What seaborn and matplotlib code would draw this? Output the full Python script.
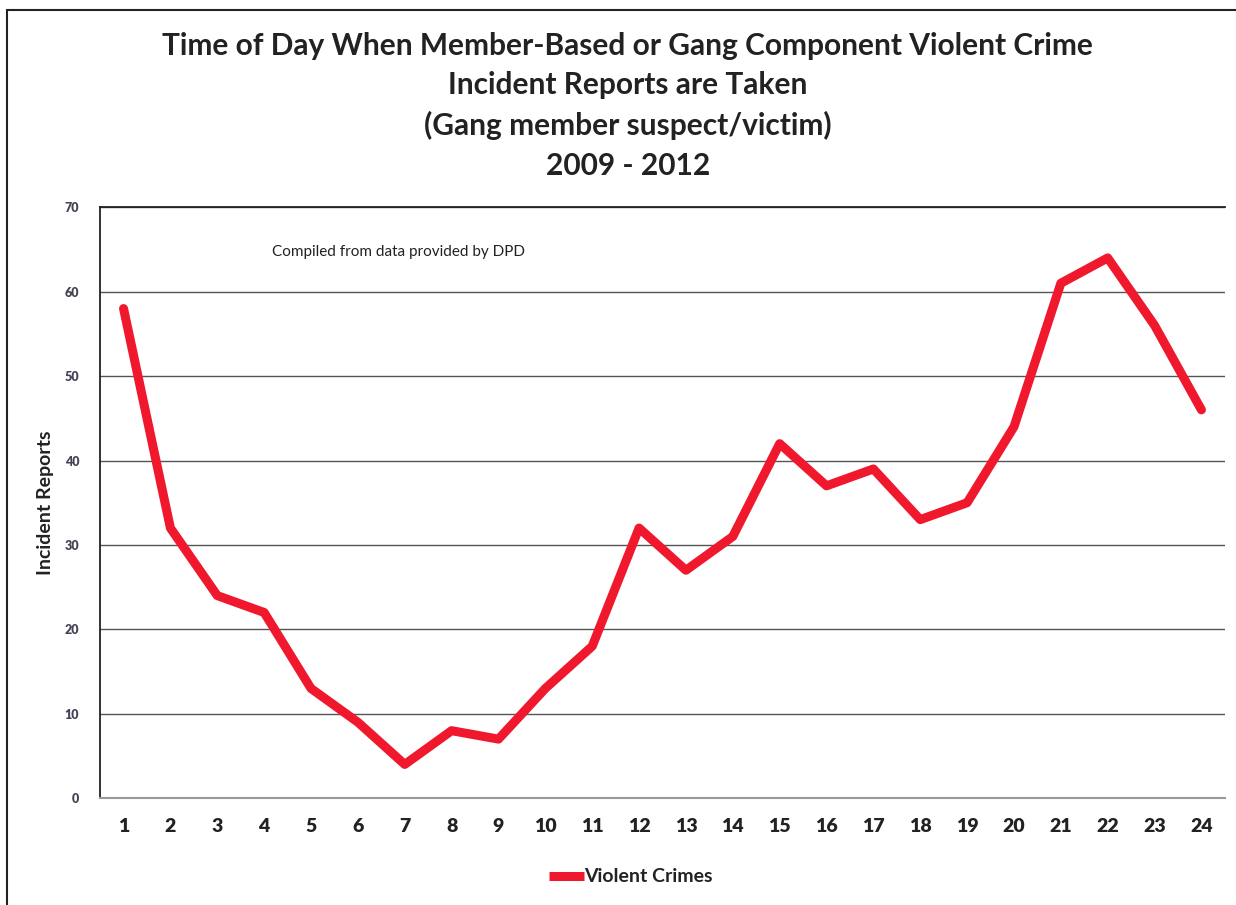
import matplotlib
matplotlib.use("Agg")
import matplotlib.pyplot as plt
import seaborn as sns
import pandas as pd
from matplotlib.patches import Rectangle

hours = list(range(1, 25))
violent_crimes = [58, 32, 24, 22, 13, 9, 4, 8, 7, 13, 18, 32, 27, 31, 42, 37, 39, 33, 35, 44, 61, 64, 56, 46]
y_ticks = [0, 10, 20, 30, 40, 50, 60, 70]

title = ("Time of Day When Member-Based or Gang Component Violent Crime\n"
         "Incident Reports are Taken\n"
         "(Gang member suspect/victim)\n"
         "2009 - 2012")

sns.set_theme(style="white")
plt.rcParams['font.family'] = ['Lato', 'DejaVu Sans']

df = pd.DataFrame({"Hour": hours, "Reports": violent_crimes, "Series": "Violent Crimes"})

fig = plt.figure(figsize=(12.36, 9.05), dpi=100)
ax = fig.add_axes([0.081, 0.118, 0.91, 0.653])

sns.lineplot(data=df, x="Hour", y="Reports", hue="Series", palette=["#F0182D"],
             linewidth=6.5, ax=ax, legend=True, solid_capstyle="round")

ax.set_xlim(0.5, 24.5)
ax.set_ylim(0, 70)
ax.set_yticks(y_ticks)
ax.set_xticks(hours)
ax.set_xticklabels([str(h) for h in hours], fontsize=14, fontweight="heavy", color="#222222")
ax.set_yticklabels([str(t) for t in y_ticks], fontsize=9, fontweight="heavy", color="#444455")
ax.tick_params(axis="x", length=0, pad=14)
ax.tick_params(axis="y", length=0, pad=15)
ax.grid(axis="y", color="#555555", linewidth=1.0)
ax.set_axisbelow(True)

for s in ["left", "top"]:
    ax.spines[s].set_visible(True)
    ax.spines[s].set_color("#222222")
    ax.spines[s].set_linewidth(1.3)
ax.spines["right"].set_visible(False)
ax.spines["bottom"].set_color("#999999")
ax.spines["bottom"].set_linewidth(1.5)

ax.set_xlabel("")
ax.set_ylabel("Incident Reports", fontsize=14, fontweight="bold", color="#222222", labelpad=8)

ax.text(0.153, 0.925, "Compiled from data provided by DPD", transform=ax.transAxes,
        fontsize=11, color="#222222", ha="left", va="center")

fig.text(0.508, 0.965, title, ha="center", va="top", fontsize=21.5, fontweight="bold",
         color="#222222", linespacing=1.5)

leg = ax.legend(loc="center", bbox_to_anchor=(0.51, 0.031), bbox_transform=fig.transFigure,
                frameon=False, fontsize=14, handlelength=1.8, handletextpad=0.0)
for t in leg.get_texts():
    t.set_fontweight("bold")
    t.set_color("#222222")
for h in leg.get_lines():
    h.set_solid_capstyle("butt")

fig.patches.append(Rectangle((0.006, -0.01), 1.2, 0.999, transform=fig.transFigure,
                             fill=False, edgecolor="#222222", linewidth=1.5))

fig.savefig("out.png", dpi=100)
